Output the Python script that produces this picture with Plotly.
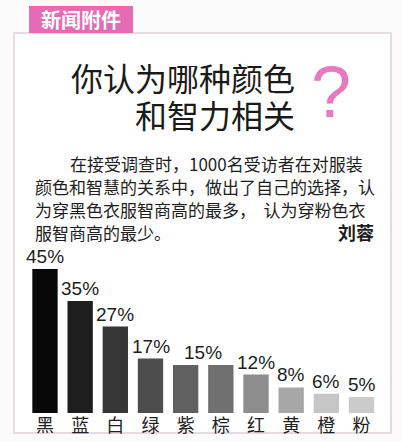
import plotly.graph_objects as go

categories = ["黑", "蓝", "白", "绿", "紫", "棕", "红", "黄", "橙", "粉"]
shares = [45, 35, 27, 17, 15, 15, 12, 8, 6, 5]
bar_colors = ["#080808", "#1e1e1e", "#363636", "#4d4d4d", "#606060",
              "#707070", "#8d8d8d", "#a7a7a7", "#c6c6c6", "#cbcbcb"]

badge = "新闻附件"
title_lines = ["你认为哪种颜色", "和智力相关"]
body_lines = [
    "在接受调查时，1000名受访者在对服装",
    "颜色和智慧的关系中，做出了自己的选择，认",
    "为穿黑色衣服智商高的最多，  认为穿粉色衣",
    "服智商高的最少。",
]
author = "刘蓉"

W, H = 402, 442
CJK = "Noto Sans CJK SC"
PINK = "#e56cb4"


# pixel -> paper helpers (margins are zero so paper == whole page)
def px(x):
    return x / W


def py(y):
    return 1 - y / H


def note(x, y, text, size, color="#1e1e1e", xanchor="center", family=CJK):
    fig.add_annotation(xref="paper", yref="paper", x=px(x), y=py(y), text=text,
                       showarrow=False, xanchor=xanchor, yanchor="middle",
                       font=dict(size=size, family=family, color=color))


fig = go.Figure()

fig.add_trace(go.Bar(
    x=list(range(len(categories))),
    y=shares,
    marker=dict(color=bar_colors, line_width=0),
    width=0.72,
    hoverinfo="skip",
))

# value labels, equal neighbours share one label
i = 0
while i < len(shares):
    j = i
    while j + 1 < len(shares) and shares[j + 1] == shares[i]:
        j += 1
    fig.add_annotation(
        x=(i + j) / 2, y=shares[i], text=f"{shares[i]}%",
        showarrow=False, yanchor="bottom", yshift=0,
        font=dict(size=19, family="Liberation Sans, Arial", color="#1e1e1e"),
    )
    i = j + 1

# frame and badge
fig.add_shape(type="rect", xref="paper", yref="paper",
              x0=px(14), x1=px(391), y0=py(433), y1=py(33),
              line=dict(color="#e4dce1", width=2), fillcolor="white", layer="below")
fig.add_shape(type="rect", xref="paper", yref="paper",
              x0=px(29), x1=px(133), y0=py(33), y1=py(6),
              line_width=0, fillcolor=PINK, layer="below")
note(81, 20, f"<b>{badge}</b>", 20, color="white")

# title
for k, line in enumerate(title_lines):
    note(297, 77 + 37 * k, line, 32, color="#1a1a1a", xanchor="right")
note(331, 92, "?", 72, color="#e878c0", family="Liberation Sans, Arial")

# body text
for k, line in enumerate(body_lines):
    note(68 if k == 0 else 33, 163 + 23 * k, line, 17, xanchor="left")
note(376, 232, f"<b>{author}</b>", 18, xanchor="right")

fig.update_layout(
    width=W, height=H,
    margin=dict(l=0, r=0, t=0, b=0),
    paper_bgcolor="#fbfbfb",
    plot_bgcolor="rgba(0,0,0,0)",
    showlegend=False,
    xaxis=dict(
        domain=[px(27.4), px(379.1)], range=[-0.5, 9.5],
        tickvals=list(range(len(categories))), ticktext=categories,
        tickfont=dict(size=18, family=CJK, color="#222222"),
        showgrid=False, zeroline=False, showline=False, ticks="", fixedrange=True,
    ),
    yaxis=dict(domain=[py(413), py(253)], range=[0, 50], visible=False, fixedrange=True),
)

fig.write_html("out.html", config={"displayModeBar": False},
               post_script="document.body.style.margin='0';")
